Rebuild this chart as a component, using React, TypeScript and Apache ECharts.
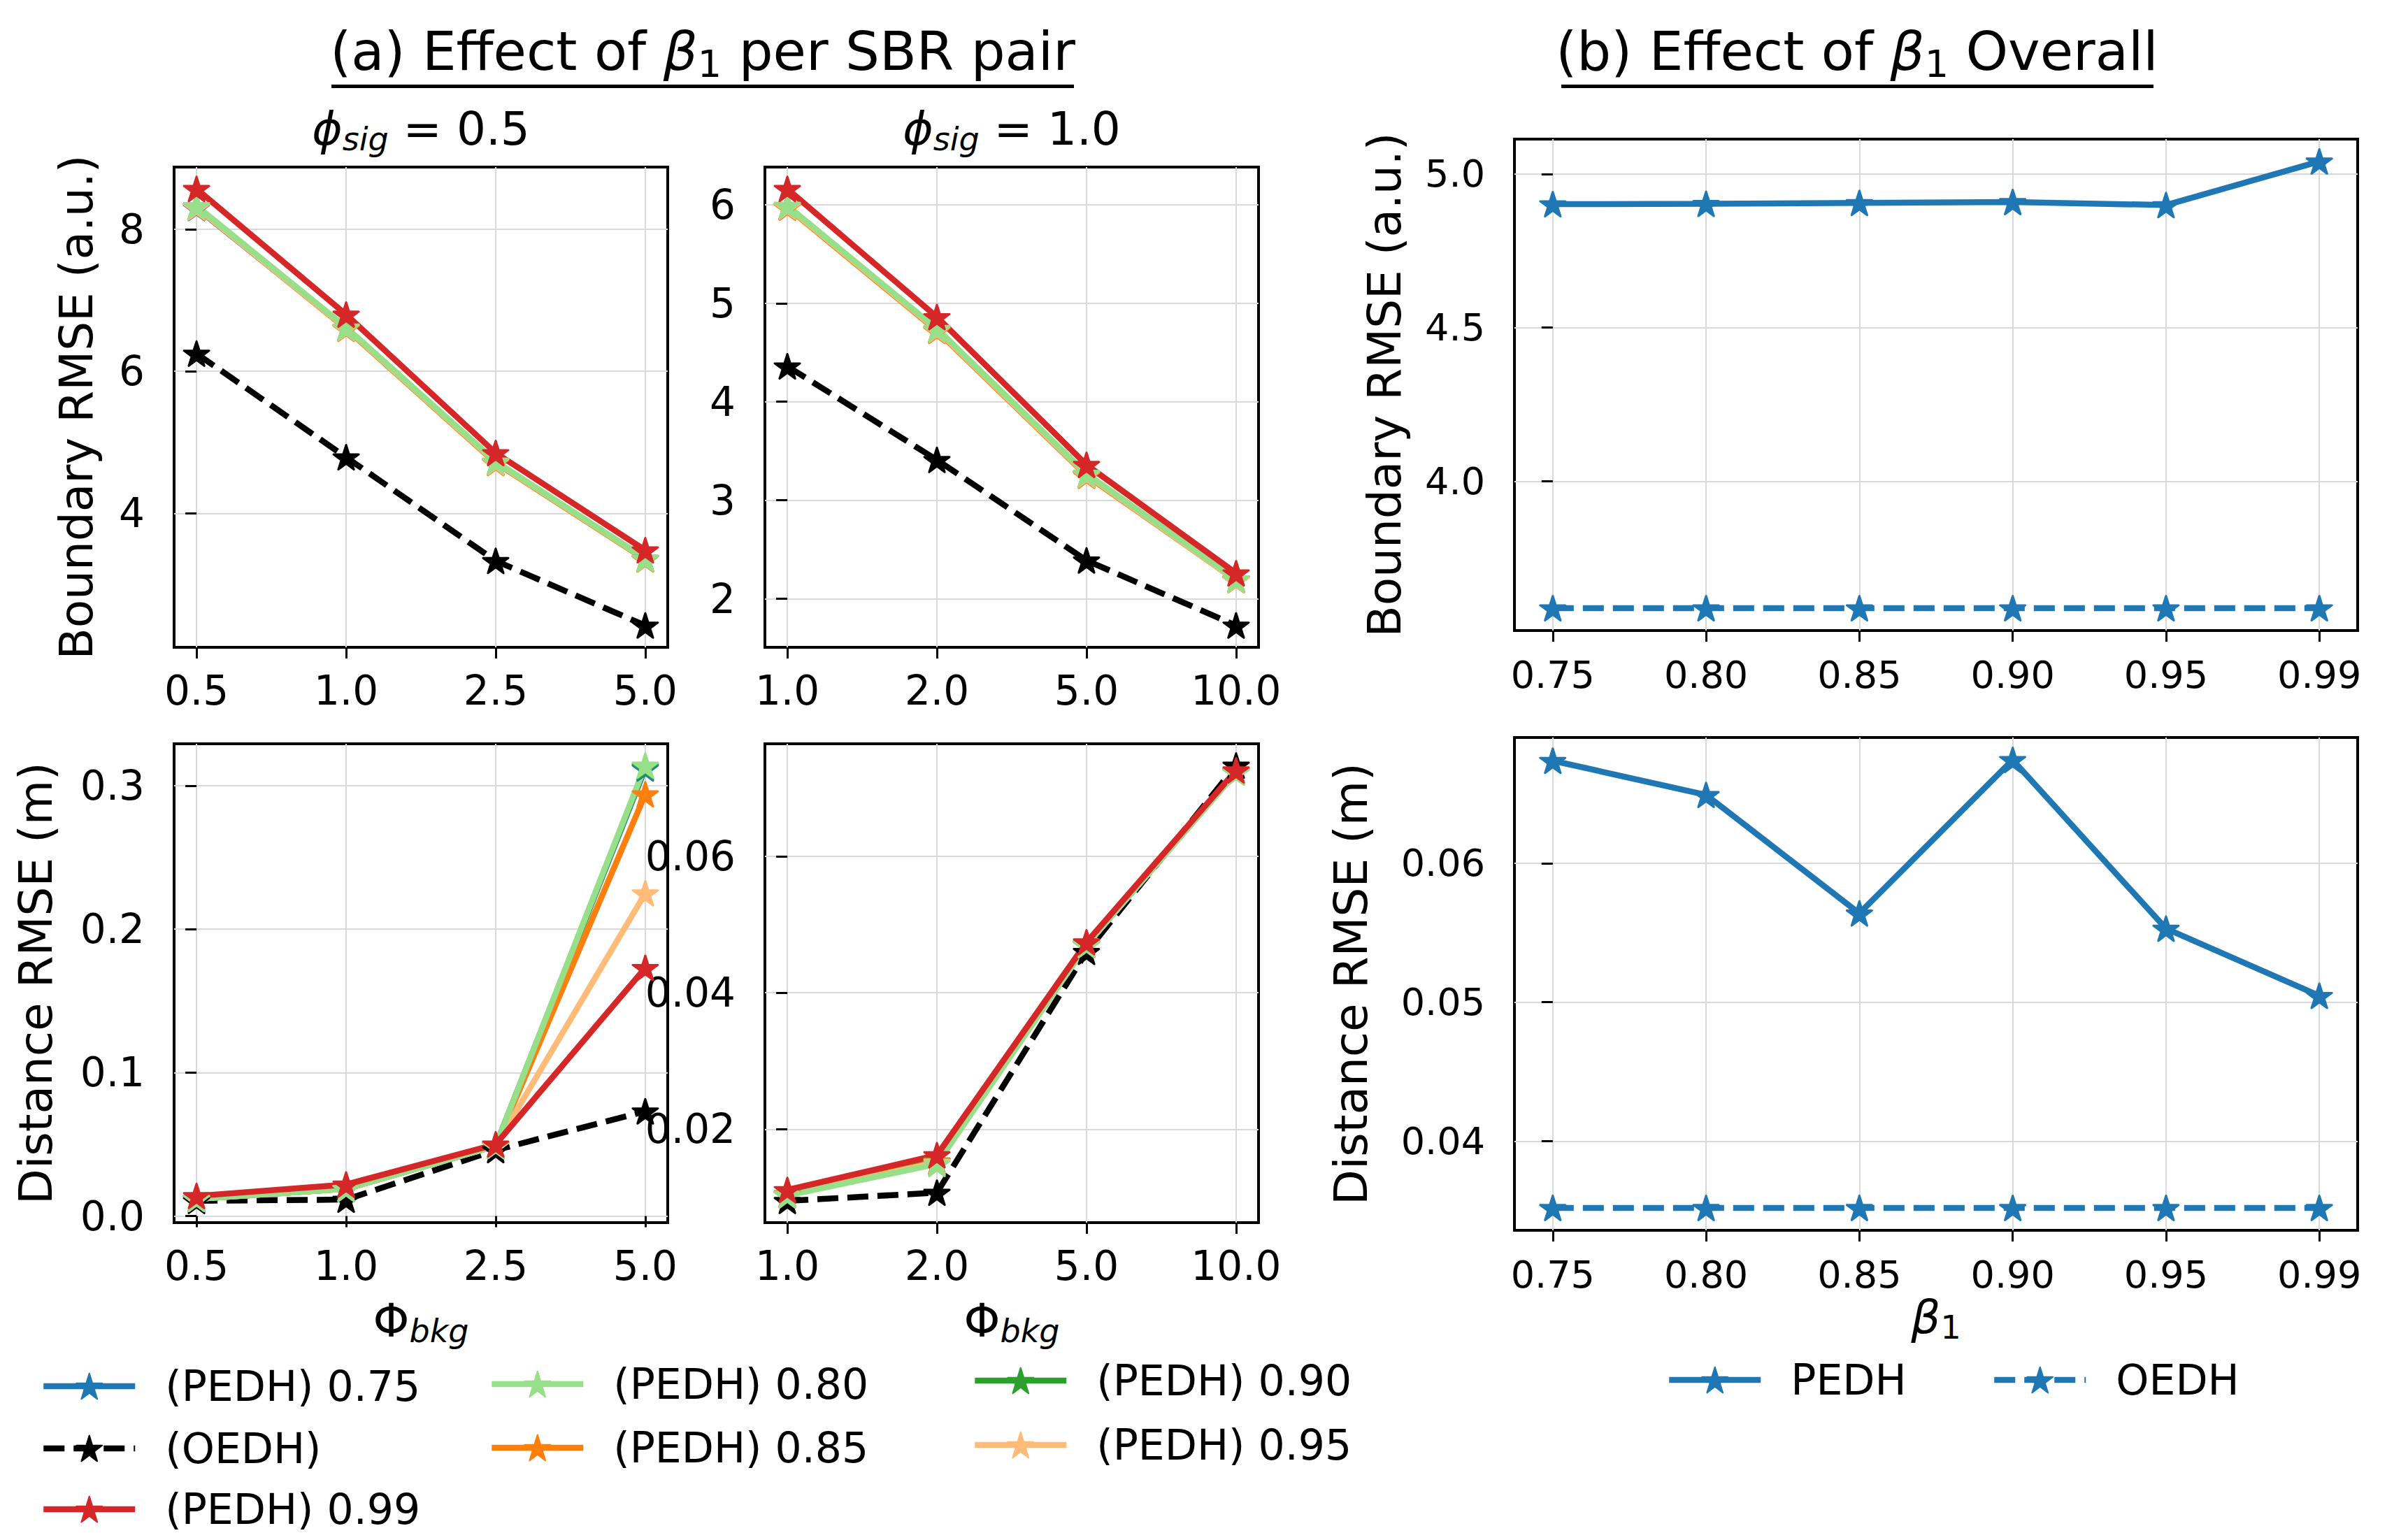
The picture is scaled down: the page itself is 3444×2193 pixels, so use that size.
import React, { useEffect, useRef } from 'react';
import * as echarts from 'echarts';

const FONT = 'DejaVu Sans';

// ---------- categories / tick labels ----------
const phiBkgSig05 = ['0.5', '1.0', '2.5', '5.0'];
const phiBkgSig10 = ['1.0', '2.0', '5.0', '10.0'];
const beta1Labels = ['0.75', '0.80', '0.85', '0.90', '0.95', '0.99'];

const yTicksBnd05 = [4, 6, 8];
const yTicksBnd10 = [2, 3, 4, 5, 6];
const yTicksDist05 = [0.0, 0.1, 0.2, 0.3];
const yTicksDist10 = [0.02, 0.04, 0.06];
const yTicksBndAll = [4.0, 4.5, 5.0];
const yTicksDistAll = [0.04, 0.05, 0.06];

// ---------- (a) Boundary RMSE, phi_sig = 0.5 ----------
const bnd05_075 = [8.30, 6.61, 4.72, 3.36];
const bnd05_080 = [8.33, 6.62, 4.73, 3.36];
const bnd05_085 = [8.31, 6.60, 4.71, 3.35];
const bnd05_090 = [8.32, 6.61, 4.72, 3.36];
const bnd05_095 = [8.31, 6.61, 4.72, 3.36];
const bnd05_099 = [8.57, 6.80, 4.85, 3.48];
const bnd05_oedh = [6.25, 4.79, 3.33, 2.42];

// ---------- (a) Boundary RMSE, phi_sig = 1.0 ----------
const bnd10_075 = [5.98, 4.73, 3.26, 2.19];
const bnd10_080 = [5.99, 4.74, 3.27, 2.20];
const bnd10_085 = [5.97, 4.72, 3.25, 2.19];
const bnd10_090 = [5.98, 4.73, 3.26, 2.20];
const bnd10_095 = [5.98, 4.73, 3.26, 2.19];
const bnd10_099 = [6.16, 4.86, 3.36, 2.26];
const bnd10_oedh = [4.36, 3.41, 2.39, 1.73];

// ---------- (a) Distance RMSE, phi_sig = 0.5 ----------
const dist05_075 = [0.012, 0.019, 0.049, 0.312];
const dist05_080 = [0.012, 0.019, 0.049, 0.314];
const dist05_085 = [0.012, 0.019, 0.049, 0.294];
const dist05_090 = [0.012, 0.019, 0.049, 0.313];
const dist05_095 = [0.012, 0.019, 0.049, 0.225];
const dist05_099 = [0.014, 0.022, 0.050, 0.173];
const dist05_oedh = [0.0106, 0.0115, 0.046, 0.073];

// ---------- (a) Distance RMSE, phi_sig = 1.0 ----------
const dist10_075 = [0.0104, 0.0152, 0.0470, 0.0723];
const dist10_080 = [0.0103, 0.0149, 0.0470, 0.0723];
const dist10_085 = [0.0104, 0.0152, 0.0471, 0.0724];
const dist10_090 = [0.0105, 0.0153, 0.0471, 0.0724];
const dist10_095 = [0.0104, 0.0151, 0.0470, 0.0723];
const dist10_099 = [0.0111, 0.0162, 0.0474, 0.0726];
const dist10_oedh = [0.0095, 0.0107, 0.0460, 0.0733];

// ---------- (b) overall ----------
const bndAll_pedh = [4.902, 4.903, 4.906, 4.909, 4.899, 5.041];
const bndAll_oedh = [3.587, 3.587, 3.587, 3.587, 3.587, 3.587];
const distAll_pedh = [0.06737, 0.06491, 0.05639, 0.06743, 0.05529, 0.05046];
const distAll_oedh = [0.0352, 0.0352, 0.0352, 0.0352, 0.0352, 0.0352];

const C = {
  blue: '#1f77b4',
  orange: '#ff7f0e',
  green: '#2ca02c',
  red: '#d62728',
  lgreen: '#98df8a',
  lorange: '#ffbb78',
  black: '#000000',
};

// star marker (matplotlib '*')
const STAR = (() => {
  const pts: string[] = [];
  for (let k = 0; k < 10; k++) {
    const a = Math.PI / 2 + (k * Math.PI) / 5;
    const r = k % 2 === 0 ? 1 : 0.381966;
    const x = r * Math.cos(a);
    const y = -r * Math.sin(a);
    pts.push(`${k === 0 ? 'M' : 'L'}${x.toFixed(4)} ${y.toFixed(4)}`);
  }
  return 'path://' + pts.join(' ') + ' Z';
})();

const DASH = [30, 13];

function ext(arrs: number[][]): [number, number] {
  let lo = Infinity;
  let hi = -Infinity;
  arrs.forEach((a) => a.forEach((v) => { lo = Math.min(lo, v); hi = Math.max(hi, v); }));
  const m = (hi - lo) * 0.05;
  return [lo - m, hi + m];
}

function xAxisCfg(gridIndex: number, labels: string[], fontSize: number, margin: number) {
  const n = labels.length;
  const pad = (n - 1) * 0.05;
  const idx = labels.map((_, i) => i);
  return {
    type: 'value',
    gridIndex,
    min: -pad,
    max: n - 1 + pad,
    axisLine: { show: false },
    axisTick: { show: true, customValues: idx, length: 16, lineStyle: { color: '#000', width: 3 } },
    axisLabel: {
      customValues: idx,
      formatter: (v: number) => labels[Math.round(v)],
      fontSize,
      fontFamily: FONT,
      color: '#000',
      margin,
    },
    splitLine: { show: true, lineStyle: { color: '#d9d9d9', width: 2 } },
  };
}

function yAxisCfg(
  gridIndex: number,
  range: [number, number],
  ticks: number[],
  decimals: number,
  fontSize: number,
  name: string,
  nameGap: number
) {
  return {
    type: 'value',
    gridIndex,
    min: range[0],
    max: range[1],
    axisLine: { show: false },
    axisTick: { show: true, customValues: ticks, length: 16, lineStyle: { color: '#000', width: 3 } },
    axisLabel: {
      customValues: ticks,
      formatter: (v: number) => v.toFixed(decimals),
      fontSize,
      fontFamily: FONT,
      color: '#000',
      margin: 42,
    },
    splitLine: { show: true, lineStyle: { color: '#d9d9d9', width: 2 } },
    name,
    nameLocation: 'middle',
    nameGap,
    nameTextStyle: { fontSize: 66, fontFamily: FONT, color: '#000' },
  };
}

function line(name: string, axis: number, vals: number[], color: string, dashed: boolean) {
  return {
    type: 'line',
    name,
    xAxisIndex: axis,
    yAxisIndex: axis,
    data: vals.map((v, i) => [i, v]),
    symbol: STAR,
    symbolSize: [36, 35],
    showSymbol: true,
    showAllSymbol: true,
    silent: true,
    lineStyle: { color, width: 8.5, type: dashed ? DASH : 'solid' },
    itemStyle: { color, borderColor: color, borderWidth: 3, borderJoin: 'round' },
    emphasis: { disabled: true },
    clip: false,
  };
}

function panelSeries(axis: number, d: {
  oedh: number[]; p075: number[]; p080: number[]; p085: number[]; p090: number[]; p095: number[]; p099: number[];
}) {
  return [
    line('(OEDH)', axis, d.oedh, C.black, true),
    line('(PEDH) 0.75', axis, d.p075, C.blue, false),
    line('(PEDH) 0.90', axis, d.p090, C.green, false),
    line('(PEDH) 0.85', axis, d.p085, C.orange, false),
    line('(PEDH) 0.95', axis, d.p095, C.lorange, false),
    line('(PEDH) 0.80', axis, d.p080, C.lgreen, false),
    line('(PEDH) 0.99', axis, d.p099, C.red, false),
  ];
}

function legendItem(name: string, left: number, centerY: number) {
  return {
    data: [name],
    left,
    top: centerY - 30,
    orient: 'horizontal',
    padding: 0,
    itemWidth: 131,
    itemHeight: 46,
    selectedMode: false,
    textStyle: { fontSize: 60, fontFamily: FONT, color: '#000', padding: [0, 0, 0, 38] },
    lineStyle: { width: 8.5 },
  };
}

const txt = (s: number, extra: any = {}) => ({ fontSize: s, fontFamily: FONT, fill: '#000', ...extra });

function App() {
  const ref = useRef<HTMLDivElement>(null);
  useEffect(() => {
    if (!ref.current) return;
    const chart = echarts.init(ref.current, undefined, { renderer: 'svg' });

    const gridStyle = { show: true, borderColor: '#000', borderWidth: 4, backgroundColor: 'transparent', containLabel: false };
    const grids = [
      { left: 249, top: 239, width: 706, height: 687 },
      { left: 1094, top: 239, width: 706, height: 687 },
      { left: 249, top: 1064, width: 706, height: 685 },
      { left: 1094, top: 1064, width: 706, height: 685 },
      { left: 2166, top: 199, width: 1206, height: 703 },
      { left: 2166, top: 1055, width: 1206, height: 705 },
    ].map((g) => ({ ...g, ...gridStyle }));

    const d05b = { oedh: bnd05_oedh, p075: bnd05_075, p080: bnd05_080, p085: bnd05_085, p090: bnd05_090, p095: bnd05_095, p099: bnd05_099 };
    const d10b = { oedh: bnd10_oedh, p075: bnd10_075, p080: bnd10_080, p085: bnd10_085, p090: bnd10_090, p095: bnd10_095, p099: bnd10_099 };
    const d05d = { oedh: dist05_oedh, p075: dist05_075, p080: dist05_080, p085: dist05_085, p090: dist05_090, p095: dist05_095, p099: dist05_099 };
    const d10d = { oedh: dist10_oedh, p075: dist10_075, p080: dist10_080, p085: dist10_085, p090: dist10_090, p095: dist10_095, p099: dist10_099 };

    const allOf = (d: any) => [d.oedh, d.p075, d.p080, d.p085, d.p090, d.p095, d.p099];

    const xAxis = [
      xAxisCfg(0, phiBkgSig05, 58, 33),
      xAxisCfg(1, phiBkgSig10, 58, 33),
      xAxisCfg(2, phiBkgSig05, 58, 33),
      xAxisCfg(3, phiBkgSig10, 58, 33),
      xAxisCfg(4, beta1Labels, 54, 36),
      xAxisCfg(5, beta1Labels, 54, 36),
    ];
    const yAxis = [
      yAxisCfg(0, ext(allOf(d05b)), yTicksBnd05, 0, 58, 'Boundary RMSE (a.u.)', 107),
      yAxisCfg(1, ext(allOf(d10b)), yTicksBnd10, 0, 58, '', 0),
      yAxisCfg(2, ext(allOf(d05d)), yTicksDist05, 1, 58, 'Distance RMSE (m)', 165),
      yAxisCfg(3, ext(allOf(d10d)), yTicksDist10, 2, 58, '', 0),
      yAxisCfg(4, ext([bndAll_pedh, bndAll_oedh]), yTicksBndAll, 1, 54, 'Boundary RMSE (a.u.)', 153),
      yAxisCfg(5, ext([distAll_pedh, distAll_oedh]), yTicksDistAll, 2, 54, 'Distance RMSE (m)', 201),
    ];

    const series = [
      ...panelSeries(0, d05b),
      ...panelSeries(1, d10b),
      ...panelSeries(2, d05d),
      ...panelSeries(3, d10d),
      line('PEDH', 4, bndAll_pedh, C.blue, false),
      line('OEDH', 4, bndAll_oedh, C.blue, true),
      line('PEDH', 5, distAll_pedh, C.blue, false),
      line('OEDH', 5, distAll_oedh, C.blue, true),
    ];

    const legend = [
      legendItem('(PEDH) 0.75', 58, 1983),
      legendItem('(OEDH)', 58, 2072),
      legendItem('(PEDH) 0.99', 58, 2159),
      legendItem('(PEDH) 0.80', 699, 1980),
      legendItem('(PEDH) 0.85', 699, 2071),
      legendItem('(PEDH) 0.90', 1390, 1975),
      legendItem('(PEDH) 0.95', 1390, 2067),
      legendItem('PEDH', 2383, 1974),
      legendItem('OEDH', 2848, 1974),
    ];

    const graphic = [
      {
        type: 'text', x: 1005, y: 73, silent: true,
        style: {
          text: '{m|(a) Effect of }{b|β}{s|1}{m| per SBR pair}',
          rich: { m: txt(77), b: txt(77, { fontStyle: 'italic' }), s: txt(54, { padding: [36, 0, 0, 0] }) },
          align: 'center', verticalAlign: 'middle',
        },
      },
      { type: 'line', silent: true, shape: { x1: 474, y1: 123.5, x2: 1536, y2: 123.5 }, style: { stroke: '#000', lineWidth: 5 } },
      {
        type: 'text', x: 2656, y: 73, silent: true,
        style: {
          text: '{m|(b) Effect of }{b|β}{s|1}{m| Overall}',
          rich: { m: txt(77), b: txt(77, { fontStyle: 'italic' }), s: txt(54, { padding: [36, 0, 0, 0] }) },
          align: 'center', verticalAlign: 'middle',
        },
      },
      { type: 'line', silent: true, shape: { x1: 2233, y1: 123.5, x2: 3080, y2: 123.5 }, style: { stroke: '#000', lineWidth: 5 } },
      {
        type: 'text', x: 602, y: 184, silent: true,
        style: {
          text: '{b|ϕ}{s|sig}{m| = 0.5}',
          rich: { m: txt(66), b: txt(66, { fontStyle: 'italic' }), s: txt(46, { fontStyle: 'italic', padding: [30, 0, 0, 0] }) },
          align: 'center', verticalAlign: 'middle',
        },
      },
      {
        type: 'text', x: 1447, y: 184, silent: true,
        style: {
          text: '{b|ϕ}{s|sig}{m| = 1.0}',
          rich: { m: txt(66), b: txt(66, { fontStyle: 'italic' }), s: txt(46, { fontStyle: 'italic', padding: [30, 0, 0, 0] }) },
          align: 'center', verticalAlign: 'middle',
        },
      },
      {
        type: 'text', x: 602, y: 1889, silent: true,
        style: {
          text: '{m|Φ}{s|bkg}',
          rich: { m: txt(66), s: txt(46, { fontStyle: 'italic', padding: [30, 0, 0, 0] }) },
          align: 'center', verticalAlign: 'middle',
        },
      },
      {
        type: 'text', x: 1447, y: 1889, silent: true,
        style: {
          text: '{m|Φ}{s|bkg}',
          rich: { m: txt(66), s: txt(46, { fontStyle: 'italic', padding: [30, 0, 0, 0] }) },
          align: 'center', verticalAlign: 'middle',
        },
      },
      {
        type: 'text', x: 2769, y: 1884, silent: true,
        style: {
          text: '{b|β}{s|1}',
          rich: { b: txt(66, { fontStyle: 'italic' }), s: txt(46, { padding: [30, 0, 0, 0] }) },
          align: 'center', verticalAlign: 'middle',
        },
      },
    ];

    chart.setOption({
      animation: false,
      backgroundColor: '#ffffff',
      grid: grids,
      xAxis,
      yAxis,
      series,
      legend,
      graphic,
    });
    return () => chart.dispose();
  }, []);
  return (
    <div
      ref={ref}
      style={{ position: 'fixed', left: 0, top: 0, width: 3444, height: 2193, background: '#fff' }}
    />
  );
}

export default App;
